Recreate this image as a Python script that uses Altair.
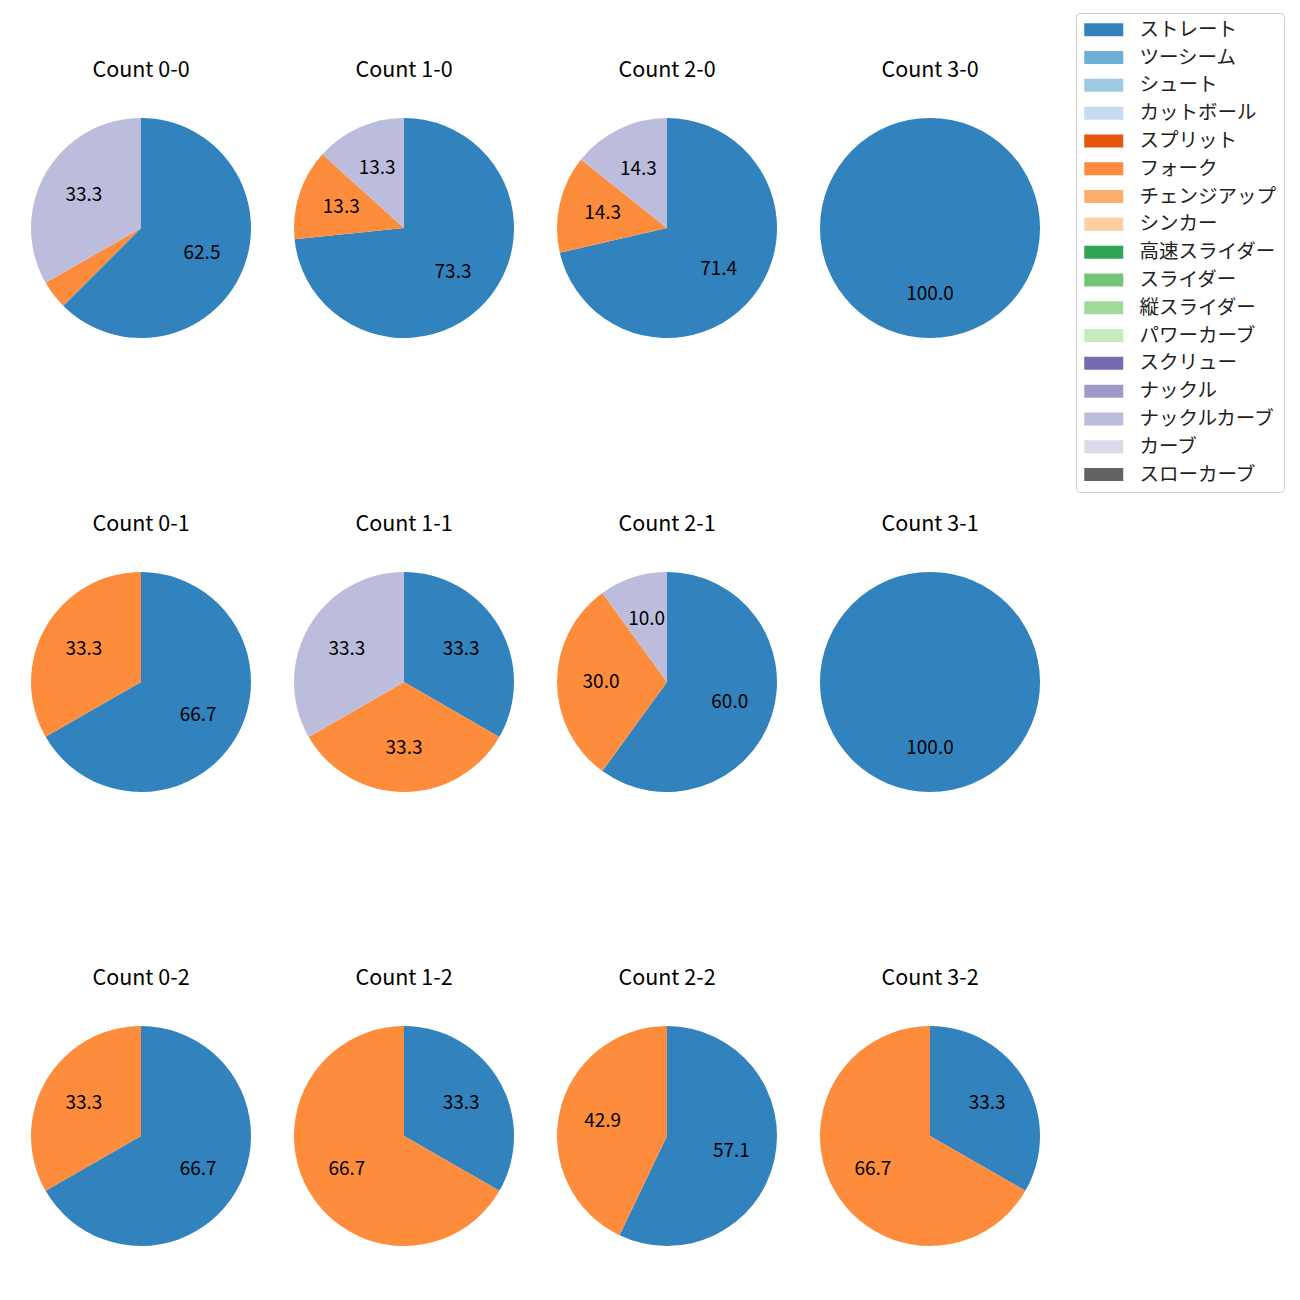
import altair as alt
import pandas as pd

pitch_types = ["ストレート", "ツーシーム", "シュート", "カットボール", "スプリット", "フォーク",
               "チェンジアップ", "シンカー", "高速スライダー", "スライダー", "縦スライダー",
               "パワーカーブ", "スクリュー", "ナックル", "ナックルカーブ", "カーブ", "スローカーブ"]
palette = ["#3182bd", "#6baed6", "#9ecae1", "#c6dbef", "#e6550d", "#fd8d3c", "#fdae6b",
           "#fdd0a2", "#31a354", "#74c476", "#a1d99b", "#c7e9c0", "#756bb1", "#9e9ac8",
           "#bcbddc", "#dadaeb", "#636363"]

counts = ["0-0", "1-0", "2-0", "3-0", "0-1", "1-1", "2-1", "3-1", "0-2", "1-2", "2-2", "3-2"]
straight = [62.5, 73.3, 71.4, 100.0, 66.7, 33.3, 60.0, 100.0, 66.7, 33.3, 57.1, 33.3]
fork = [4.2, 13.3, 14.3, 0.0, 33.3, 33.3, 30.0, 0.0, 33.3, 66.7, 42.9, 66.7]
knuckle_curve = [33.3, 13.3, 14.3, 0.0, 0.0, 33.3, 10.0, 0.0, 0.0, 0.0, 0.0, 0.0]

rows = []
for i, c in enumerate(counts):
    for name, vals in (("ストレート", straight), ("フォーク", fork), ("ナックルカーブ", knuckle_curve)):
        v = vals[i]
        if v > 0:
            rows.append({
                "panel": "Count " + c,
                "pitch": name,
                "idx": pitch_types.index(name),
                "value": v,
                "label": f"{v:.1f}" if v >= 5 else "",
            })
df = pd.DataFrame(rows)
panel_order = ["Count " + c for c in counts]

FONT = "Noto Sans CJK JP"

color = alt.Color(
    "pitch:N",
    scale=alt.Scale(domain=pitch_types, range=palette),
    legend=alt.Legend(
        title=None, orient="none", legendX=1045, legendY=-105,
        symbolType="M-3,-1H3V1H-3Z", symbolSize=169, symbolStrokeWidth=0,
        symbolOffset=11,
        labelFontSize=19.5, labelFont=FONT, labelColor="#222", labelOffset=26,
        rowPadding=6.8, padding=7, strokeColor="#cccccc", fillColor="white",
        cornerRadius=4, labelLimit=300,
    ),
)

base = alt.Chart(df).encode(
    theta=alt.Theta("value:Q", stack=True),
    order=alt.Order("idx:Q"),
)
arcs = base.mark_arc(outerRadius=110).encode(color=color)
texts = base.mark_text(radius=66, fontSize=19, font=FONT, color="black").encode(text="label:N")

chart = alt.layer(arcs, texts).properties(width=220, height=220).facet(
    facet=alt.Facet("panel:N", sort=panel_order,
                    header=alt.Header(title=None, labelFontSize=21.5, labelFont=FONT,
                                      labelColor="black", labelPadding=37)),
    columns=4,
    spacing={"row": 175, "column": 43},
).properties(
    padding={"left": 23, "top": 4, "right": 0, "bottom": 5}
).configure_view(stroke=None)

chart.save("out.html", embed_options={"renderer": "svg", "actions": False})
